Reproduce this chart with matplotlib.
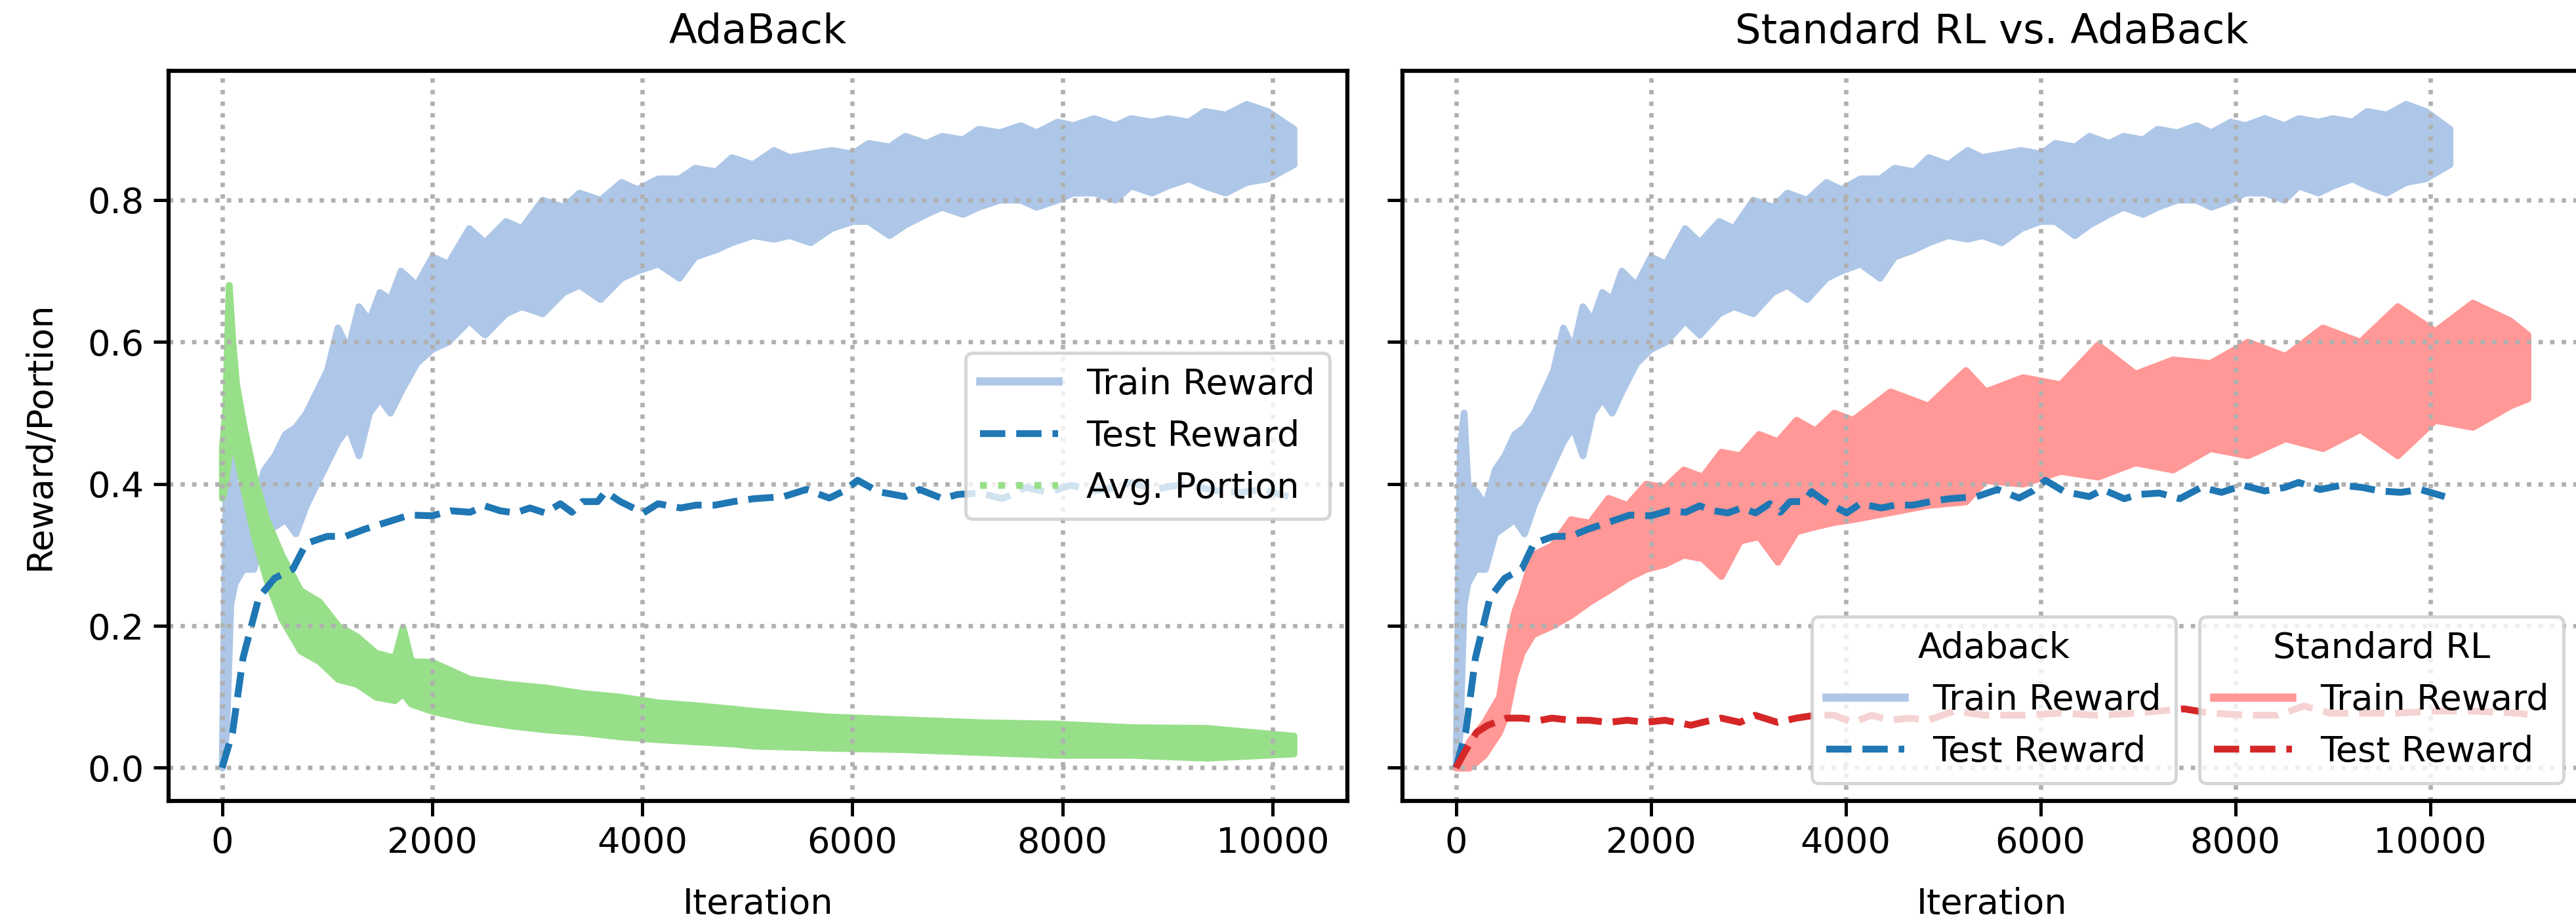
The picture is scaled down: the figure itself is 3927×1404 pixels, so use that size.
import matplotlib
matplotlib.use("Agg")
import matplotlib.pyplot as plt
from matplotlib.lines import Line2D

# AdaBack train reward, envelope of the noisy curve
ada_iter = [0, 40, 80, 120, 200, 300, 400, 500, 600, 700, 800, 900, 1000, 1100, 1200,
            1300, 1400, 1500, 1600, 1700, 1850, 2000, 2150, 2350, 2500, 2700, 2850,
            3050, 3250, 3400, 3600, 3800, 3950, 4150, 4350, 4500, 4700, 4850, 5050,
            5250, 5400, 5600, 5800, 6000, 6150, 6350, 6500, 6700, 6850, 7050, 7200,
            7400, 7600, 7750, 7950, 8100, 8300, 8500, 8650, 8850, 9000, 9200, 9350,
            9550, 9750, 9950, 10200]
ada_train_hi = [0.02, 0.45, 0.50, 0.40, 0.39, 0.37, 0.42, 0.44, 0.47, 0.48, 0.50, 0.53,
                0.56, 0.62, 0.59, 0.65, 0.63, 0.67, 0.66, 0.70, 0.68, 0.72, 0.71, 0.76,
                0.74, 0.77, 0.76, 0.80, 0.79, 0.81, 0.80, 0.825, 0.815, 0.83, 0.83,
                0.845, 0.84, 0.86, 0.85, 0.87, 0.86, 0.865, 0.87, 0.865, 0.88, 0.875,
                0.89, 0.88, 0.89, 0.885, 0.90, 0.895, 0.905, 0.895, 0.91, 0.905, 0.915,
                0.905, 0.915, 0.91, 0.915, 0.91, 0.925, 0.92, 0.935, 0.925, 0.90]
ada_train_lo = [0.0, 0.05, 0.23, 0.26, 0.28, 0.28, 0.33, 0.34, 0.35, 0.33, 0.37, 0.40,
                0.43, 0.46, 0.48, 0.44, 0.50, 0.52, 0.50, 0.53, 0.57, 0.59, 0.60, 0.63,
                0.61, 0.64, 0.65, 0.64, 0.67, 0.68, 0.66, 0.69, 0.70, 0.71, 0.69, 0.72,
                0.73, 0.74, 0.75, 0.745, 0.75, 0.74, 0.76, 0.77, 0.77, 0.75, 0.765, 0.78,
                0.79, 0.78, 0.79, 0.80, 0.80, 0.79, 0.80, 0.81, 0.81, 0.80, 0.82, 0.81,
                0.82, 0.83, 0.82, 0.81, 0.825, 0.83, 0.85]

# AdaBack test reward
ada_test_iter = [0, 100, 200, 350, 500, 675, 800, 1000, 1175, 1355, 1570, 1785, 2000,
                 2180, 2360, 2500, 2650, 2790, 2930, 3075, 3220, 3330, 3430, 3575, 3650,
                 3790, 4010, 4150, 4365, 4510, 4690, 4870, 5060, 5345, 5560, 5780, 5920,
                 6050, 6245, 6500, 6640, 6860, 7000, 7220, 7430, 7650, 7860, 8080, 8300,
                 8510, 8650, 8870, 9090, 9300, 9480, 9700, 9900, 10150]
ada_test = [0.0, 0.05, 0.155, 0.24, 0.267, 0.28, 0.316, 0.326, 0.326, 0.336, 0.346,
            0.356, 0.355, 0.362, 0.36, 0.369, 0.362, 0.359, 0.366, 0.359, 0.372, 0.36,
            0.375, 0.375, 0.389, 0.375, 0.359, 0.372, 0.366, 0.37, 0.37, 0.375, 0.379,
            0.382, 0.392, 0.38, 0.39, 0.405, 0.389, 0.382, 0.392, 0.379, 0.385, 0.387,
            0.379, 0.395, 0.388, 0.398, 0.39, 0.395, 0.402, 0.392, 0.398, 0.395, 0.39,
            0.388, 0.392, 0.382]

# AdaBack average portion, envelope
port_iter = [0, 30, 65, 100, 136, 208, 315, 423, 566, 745, 925, 1104, 1283, 1462, 1642,
             1720, 1800, 2000, 2360, 2720, 3075, 3430, 3790, 4150, 4510, 4870, 5060,
             5780, 6500, 7220, 7940, 8660, 9370, 10200]
port_hi = [0.45, 0.50, 0.68, 0.60, 0.54, 0.48, 0.405, 0.35, 0.30, 0.25, 0.234, 0.20,
           0.185, 0.162, 0.155, 0.198, 0.15, 0.149, 0.125, 0.118, 0.113, 0.105, 0.10,
           0.092, 0.088, 0.083, 0.08, 0.072, 0.068, 0.064, 0.062, 0.057, 0.056, 0.045]
port_lo = [0.38, 0.40, 0.44, 0.46, 0.44, 0.39, 0.32, 0.265, 0.21, 0.165, 0.15, 0.125,
           0.118, 0.10, 0.095, 0.105, 0.09, 0.08, 0.068, 0.06, 0.054, 0.05, 0.044, 0.04,
           0.037, 0.034, 0.031, 0.028, 0.026, 0.022, 0.018, 0.018, 0.014, 0.02]

# Standard RL train reward, envelope
rl_iter = [0, 135, 290, 444, 521, 600, 675, 790, 985, 1178, 1370, 1564, 1757, 1950,
           2143, 2336, 2529, 2722, 2915, 3108, 3301, 3494, 3687, 3880, 4073, 4459, 4846,
           5232, 5435, 5819, 6204, 6588, 6973, 7358, 7742, 8127, 8512, 8896, 9281, 9665,
           10050, 10435, 10819, 11000]
rl_train_hi = [0.0, 0.037, 0.064, 0.10, 0.169, 0.22, 0.248, 0.30, 0.313, 0.35, 0.345,
               0.38, 0.37, 0.40, 0.395, 0.42, 0.41, 0.445, 0.44, 0.47, 0.46, 0.49, 0.475,
               0.50, 0.49, 0.53, 0.51, 0.56, 0.53, 0.55, 0.54, 0.596, 0.555, 0.575, 0.57,
               0.60, 0.58, 0.62, 0.60, 0.65, 0.615, 0.655, 0.63, 0.61]
rl_train_lo = [0.0, 0.0, 0.018, 0.05, 0.077, 0.13, 0.162, 0.188, 0.20, 0.215, 0.234,
               0.25, 0.267, 0.28, 0.287, 0.30, 0.295, 0.27, 0.32, 0.326, 0.29, 0.333,
               0.34, 0.346, 0.35, 0.36, 0.37, 0.375, 0.405, 0.40, 0.418, 0.41, 0.43,
               0.42, 0.45, 0.44, 0.464, 0.45, 0.477, 0.44, 0.49, 0.48, 0.51, 0.52]

# Standard RL test reward
rl_test_iter = [0, 97, 212, 328, 521, 675, 869, 985, 1178, 1370, 1564, 1757, 1950, 2143,
                2413, 2529, 2722, 2915, 3070, 3301, 3494, 3687, 3880, 4073, 4266, 4459,
                4653, 4846, 5116, 5435, 5819, 6204, 6588, 6973, 7473, 7742, 8127, 8435,
                8704, 8973, 9281, 9665, 10050, 10435, 10896, 11000]
rl_test = [0.0, 0.024, 0.05, 0.06, 0.07, 0.07, 0.067, 0.07, 0.067, 0.067, 0.064, 0.067,
           0.064, 0.067, 0.06, 0.064, 0.07, 0.064, 0.074, 0.064, 0.07, 0.074, 0.074,
           0.064, 0.074, 0.067, 0.07, 0.067, 0.08, 0.074, 0.074, 0.077, 0.074, 0.077,
           0.083, 0.077, 0.074, 0.074, 0.087, 0.077, 0.077, 0.077, 0.08, 0.08, 0.077,
           0.075]

c_ada_train = "#aec7e8"
c_ada_test = "#1f77b4"
c_portion = "#98df8a"
c_rl_train = "#ff9896"
c_rl_test = "#d62728"

plt.rcParams["font.size"] = 13
plt.rcParams["axes.linewidth"] = 1.5

fig = plt.figure(figsize=(13.09, 4.68), dpi=300)
ax1 = fig.add_axes([0.0654, 0.1303, 0.4576, 0.7928])
ax2 = fig.add_axes([0.5444, 0.1303, 0.4576, 0.7928], sharey=ax1)


def band(ax, x, lo, hi, color):
    ax.fill_between(x, lo, hi, color=color, lw=2.5, edgecolor=color)


# left: AdaBack
band(ax1, ada_iter, ada_train_lo, ada_train_hi, c_ada_train)
ax1.plot(ada_test_iter, ada_test, "--", color=c_ada_test, lw=2.5)
band(ax1, port_iter, port_lo, port_hi, c_portion)
ax1.set_title("AdaBack", fontsize=15, pad=10)
ax1.set_xlabel("Iteration", labelpad=10)
ax1.set_ylabel("Reward/Portion", labelpad=11)

h1 = [Line2D([], [], color=c_ada_train, lw=3),
      Line2D([], [], color=c_ada_test, lw=2.5, ls="--"),
      Line2D([], [], color=c_portion, lw=2.5, ls=":")]
leg = ax1.legend(h1, ["Train Reward", "Test Reward", "Avg. Portion"],
                 loc="center right", handlelength=2.2)
leg.get_frame().set_linewidth(1.2)

# right: Standard RL vs AdaBack
band(ax2, ada_iter, ada_train_lo, ada_train_hi, c_ada_train)
ax2.plot(ada_test_iter, ada_test, "--", color=c_ada_test, lw=2.5)
band(ax2, rl_iter, rl_train_lo, rl_train_hi, c_rl_train)
ax2.plot(rl_test_iter, rl_test, "--", color=c_rl_test, lw=2.5)
ax2.set_title("Standard RL vs. AdaBack", fontsize=15, pad=10)
ax2.set_xlabel("Iteration", labelpad=10)
ax2.tick_params(labelleft=False)

h_ada = [Line2D([], [], color=c_ada_train, lw=3),
         Line2D([], [], color=c_ada_test, lw=2.5, ls="--")]
h_rl = [Line2D([], [], color=c_rl_train, lw=3),
        Line2D([], [], color=c_rl_test, lw=2.5, ls="--")]
leg_a = ax2.legend(h_ada, ["Train Reward", "Test Reward"], title="Adaback",
                   loc="lower right", bbox_to_anchor=(0.671, 0.0), handlelength=2.2)
leg_a.get_frame().set_linewidth(1.2)
ax2.add_artist(leg_a)
leg_b = ax2.legend(h_rl, ["Train Reward", "Test Reward"], title="Standard RL",
                   loc="lower right", handlelength=2.2)
leg_b.get_frame().set_linewidth(1.2)

for ax in (ax1, ax2):
    ax.grid(True, ls=":", lw=1.6, color="#b0b0b0")
    ax.tick_params(length=5.5, width=1.2)
    ax.set_xticks([0, 2000, 4000, 6000, 8000, 10000])

fig.savefig("out.png", dpi=300)
